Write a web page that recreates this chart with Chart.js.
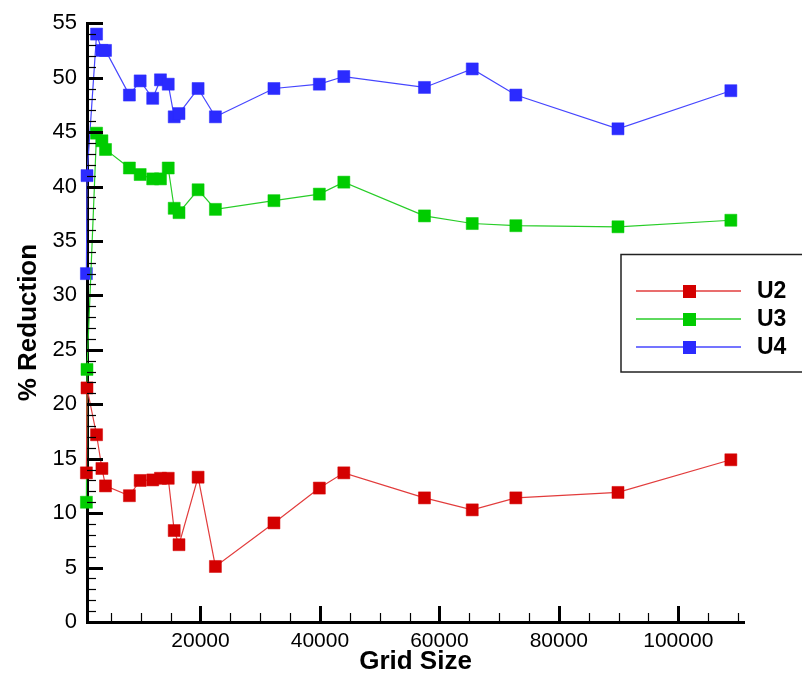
<!DOCTYPE html>
<html>
<head>
<meta charset="utf-8">
<script src="https://cdn.jsdelivr.net/npm/chart.js@4"></script>
<style>
  body { margin: 0; background: #fff; }
  canvas { display: block; }
</style>
</head>
<body>
<canvas id="chart" width="802" height="677"></canvas>
<script>
// Data
const gridSize = [900, 1000, 2600, 3500, 4100, 8100, 9900, 12000, 13300, 14600, 15600, 16400, 19600, 22500, 32300, 39900, 44000, 57500, 65500, 72800, 89900, 108800];
const u2 = [13.7, 21.5, 17.2, 14.1, 12.5, 11.6, 13.0, 13.05, 13.2, 13.2, 8.4, 7.1, 13.3, 5.1, 9.1, 12.3, 13.7, 11.4, 10.3, 11.4, 11.9, 14.9];
const u3 = [11.0, 23.2, 44.9, 44.2, 43.4, 41.7, 41.1, 40.7, 40.7, 41.7, 38.0, 37.6, 39.7, 37.9, 38.7, 39.3, 40.4, 37.3, 36.6, 36.4, 36.3, 36.9];
const u4 = [32.0, 41.0, 54.0, 52.5, 52.5, 48.4, 49.7, 48.1, 49.8, 49.4, 46.4, 46.7, 49.0, 46.4, 49.0, 49.4, 50.1, 49.1, 50.8, 48.4, 45.3, 48.8];
const seriesNames = ["U2", "U3", "U4"];
const xTicks = [20000, 40000, 60000, 80000, 100000];
const yTicks = [0, 5, 10, 15, 20, 25, 30, 35, 40, 45, 50, 55];

const FONT = "'Liberation Sans', Arial, sans-serif";

function toPoints(values) {
  return values.map((v, i) => ({ x: gridSize[i], y: v }));
}

function makeSet(label, values, fill, line) {
  return {
    label: label,
    data: toPoints(values),
    showLine: true,
    borderColor: line,
    borderWidth: 1.2,
    backgroundColor: fill,
    pointStyle: "rect",
    pointRadius: 8.5,
    pointBackgroundColor: fill,
    pointBorderColor: fill,
    pointBorderWidth: 0.5,
    tension: 0,
    clip: false,
  };
}

// Tecplot style ticks pointing into the plot
const inwardTicks = {
  id: "inwardTicks",
  afterDraw(chart) {
    const { ctx, chartArea, scales } = chart;
    ctx.save();
    ctx.strokeStyle = "#000";
    // y axis
    for (let v = 0; v <= 55; v++) {
      const y = Math.round(scales.y.getPixelForValue(v)) + 0.5;
      const major = yTicks.includes(v);
      ctx.lineWidth = major ? 3 : 1.2;
      ctx.beginPath();
      ctx.moveTo(chartArea.left, y);
      ctx.lineTo(chartArea.left + (major ? 16 : 9), y);
      ctx.stroke();
    }
    // x axis
    for (let v = 5000; v <= 110000; v += 5000) {
      const x = Math.round(scales.x.getPixelForValue(v)) + 0.5;
      const major = xTicks.includes(v);
      ctx.lineWidth = major ? 3 : 1.2;
      ctx.beginPath();
      ctx.moveTo(x, chartArea.bottom);
      ctx.lineTo(x, chartArea.bottom - (major ? 16 : 9));
      ctx.stroke();
    }
    ctx.restore();
  },
};

// Boxed legend on the right side, cut by the page edge like the original
const boxLegend = {
  id: "boxLegend",
  afterDraw(chart) {
    const ctx = chart.ctx;
    ctx.save();
    ctx.strokeStyle = "#222";
    ctx.lineWidth = 1.5;
    ctx.strokeRect(621, 254.5, 220, 117.5);
    chart.data.datasets.forEach((ds, i) => {
      const y = 291 + i * 28;
      ctx.strokeStyle = ds.borderColor;
      ctx.lineWidth = 1.5;
      ctx.beginPath();
      ctx.moveTo(636, y);
      ctx.lineTo(741, y);
      ctx.stroke();
      ctx.fillStyle = ds.pointBackgroundColor;
      ctx.fillRect(683, y - 6, 13, 13);
      ctx.fillStyle = "#000";
      ctx.font = "bold 23px " + FONT;
      ctx.textBaseline = "middle";
      ctx.fillText(ds.label, 757, y + 1);
    });
    ctx.restore();
  },
};

new Chart(document.getElementById("chart"), {
  type: "scatter",
  data: {
    datasets: [
      makeSet(seriesNames[0], u2, "#d40000", "rgb(226, 60, 60)"),
      makeSet(seriesNames[1], u3, "#00cc00", "rgb(40, 205, 40)"),
      makeSet(seriesNames[2], u4, "#2b2bff", "rgb(70, 70, 255)"),
    ],
  },
  options: {
    responsive: false,
    animation: false,
    layout: {
      padding: { left: 9, right: 58, top: 20, bottom: 0 },
    },
    plugins: {
      legend: { display: false },
      tooltip: { enabled: false },
    },
    scales: {
      x: {
        type: "linear",
        min: 1000,
        max: 111000,
        afterBuildTicks: (axis) => {
          axis.ticks = xTicks.map((v) => ({ value: v }));
        },
        afterFit: (axis) => {
          axis.height = 55;
        },
        grid: { display: false, drawTicks: false },
        border: { display: true, color: "#000", width: 3 },
        ticks: {
          padding: 7,
          maxRotation: 0,
          color: "#000",
          font: { family: FONT, size: 21 },
          callback: (v) => String(v),
        },
        title: {
          display: true,
          text: "Grid Size",
          color: "#000",
          padding: { top: 0, bottom: 0 },
          font: { family: FONT, size: 26, weight: "bold" },
        },
      },
      y: {
        min: 0,
        max: 55,
        afterBuildTicks: (axis) => {
          axis.ticks = yTicks.map((v) => ({ value: v }));
        },
        afterFit: (axis) => {
          axis.width = 78;
        },
        grid: { display: false, drawTicks: false },
        border: { display: true, color: "#000", width: 3 },
        ticks: {
          padding: 10,
          color: "#000",
          font: { family: FONT, size: 22 },
        },
        title: {
          display: true,
          text: "% Reduction",
          color: "#000",
          padding: { top: 4, bottom: 0 },
          font: { family: FONT, size: 26, weight: "bold" },
        },
      },
    },
  },
  plugins: [inwardTicks, boxLegend],
});
</script>
</body>
</html>
